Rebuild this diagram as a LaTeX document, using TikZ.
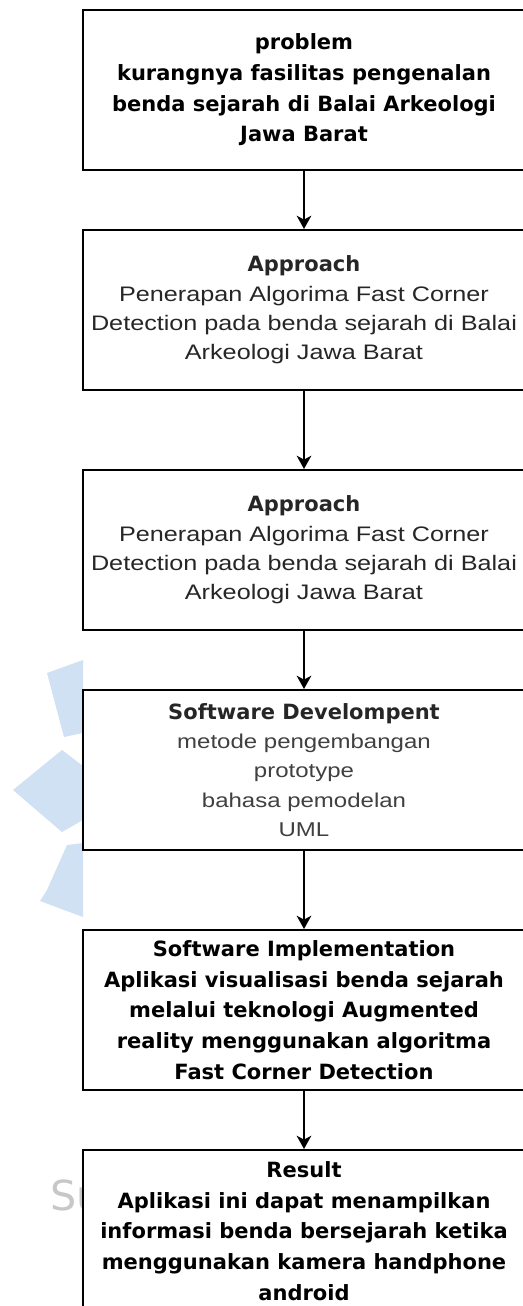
\documentclass[tikz,border=0pt]{standalone}
\usepackage{fontspec}
\usepackage{tikz}
\usetikzlibrary{arrows.meta, positioning}
\setmainfont{Liberation Sans}
\newfontfamily\headfont{DejaVu Sans}
\newfontfamily\bodyfont{Liberation Sans}[FakeStretch=1.2]
\definecolor{wmblue}{RGB}{207,225,242}

\begin{document}
\begin{tikzpicture}[x=0.75pt, y=-0.75pt,
  box/.style = {draw, line width=1.5pt, fill=white, minimum width=331.5pt,
    minimum height=120pt, inner sep=0pt, align=center},
  bold/.style = {font=\headfont\bfseries\fontsize{15.75}{23}\selectfont},
  plain/.style = {font=\bodyfont\fontsize{15.75}{22}\selectfont, text=black!85},
  flow/.style = {-{Stealth[length=10pt, width=11pt, inset=3pt]}, line width=1.1pt}]
  \useasboundingbox (0,0) rectangle (523,1306);

  % logo petals on the left margin
  \fill[wmblue] (47,673) -- (83,660) -- (83,733) -- (64,737) -- cycle;
  \fill[wmblue] (13,790) -- (62,750) -- (83,766) -- (83,820) -- (62,832) -- cycle;
  \fill[wmblue] (67,845) -- (83,843) -- (83,917) -- (40,901) -- (47,890) -- cycle;
  \node[anchor=base west, inner sep=0pt, text=black!22,
    font=\headfont\fontsize{31}{31}\selectfont] (su) at (50,1210) {Su};

  \node[box, bold] (problem) at (304,90)
    {problem\\ kurangnya fasilitas pengenalan\\ benda sejarah di Balai Arkeologi\\ Jawa Barat};
  \node[box, plain] (approach) at (304,310)
    {{\headfont\bfseries Approach}\\ Penerapan Algorima Fast Corner\\
     Detection pada benda sejarah di Balai\\ Arkeologi Jawa Barat};
  \node[box, plain] (approachb) at (304,550)
    {{\headfont\bfseries Approach}\\ Penerapan Algorima Fast Corner\\
     Detection pada benda sejarah di Balai\\ Arkeologi Jawa Barat};
  \node[box, plain, text=black!75, font=\bodyfont\fontsize{15}{22}\selectfont] (develop) at (304,770)
    {{\headfont\bfseries\fontsize{15.75}{22}\selectfont\color{black!85} Software Develompent}\\
     metode pengembangan\\ prototype\\ bahasa pemodelan\\ UML};
  \node[box, bold] (implement) at (304,1010)
    {Software Implementation\\ Aplikasi visualisasi benda sejarah\\ melalui teknologi Augmented\\
     reality menggunakan algoritma\\ Fast Corner Detection};
  \node[box, bold, minimum height=121.5pt] (result) at (304,1231)
    {Result\\ Aplikasi ini dapat menampilkan\\ informasi benda bersejarah ketika\\
     menggunakan kamera handphone\\ android};

  \draw[flow] (problem) -- (approach);
  \draw[flow] (approach) -- (approachb);
  \draw[flow] (approachb) -- (develop);
  \draw[flow] (develop) -- (implement);
  \draw[flow] (implement) -- (result);
\end{tikzpicture}
\end{document}
